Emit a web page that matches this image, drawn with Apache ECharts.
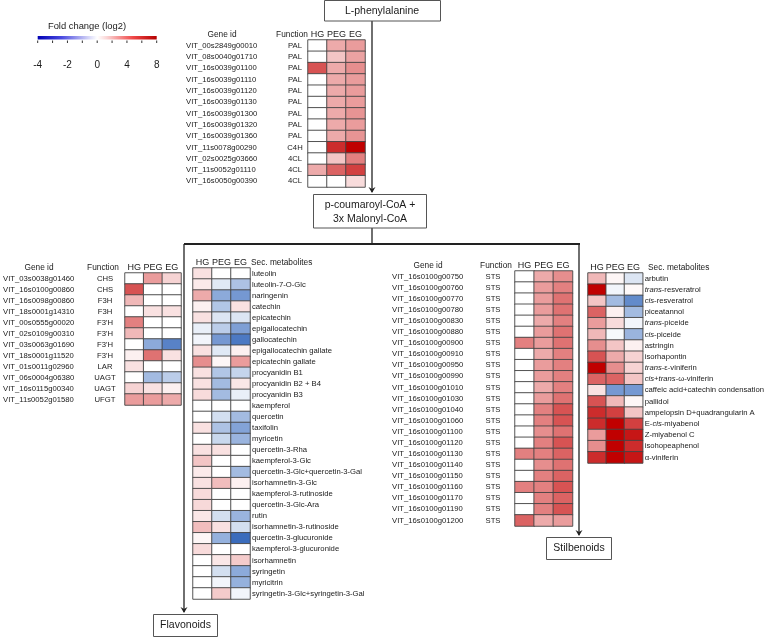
<!DOCTYPE html>
<html><head><meta charset="utf-8">
<script src="https://cdn.jsdelivr.net/npm/echarts/dist/echarts.min.js"></script>
<style>html,body{margin:0;padding:0;background:#fff}#c{width:767px;height:637px}</style>
</head><body><div id="c"></div>
<script>
const conditions = ['HG', 'PEG', 'EG'];

// Phenylpropanoid pathway genes (top table)
const pathGenes = ['VIT_00s2849g00010','VIT_08s0040g01710','VIT_16s0039g01100','VIT_16s0039g01110','VIT_16s0039g01120','VIT_16s0039g01130','VIT_16s0039g01300','VIT_16s0039g01320','VIT_16s0039g01360','VIT_11s0078g00290','VIT_02s0025g03660','VIT_11s0052g01110','VIT_16s0050g00390'];
const pathFunctions = ['PAL','PAL','PAL','PAL','PAL','PAL','PAL','PAL','PAL','C4H','4CL','4CL','4CL'];
const pathHG  = [0, 0, 6, 0, 0, 0, 0, 0, 0, 0, 0, 3, 0];
const pathPEG = [3, 2, 3, 3, 3, 3, 3, 3, 3, 7, 2, 5.5, 0];
const pathEG  = [3.5, 3.3, 4, 3.5, 3.5, 3.5, 3.8, 3.5, 3.8, 8, 4.5, 6.5, 1.2];

// Flavonoid genes (left table)
const flavGenes = ['VIT_03s0038g01460','VIT_16s0100g00860','VIT_16s0098g00860','VIT_18s0001g14310','VIT_00s0555g00020','VIT_02s0109g00310','VIT_03s0063g01690','VIT_18s0001g11520','VIT_01s0011g02960','VIT_06s0004g06380','VIT_16s0115g00340','VIT_11s0052g01580'];
const flavFunctions = ['CHS','CHS','F3H','F3H',"F3'H","F3'H","F3'H","F3'H",'LAR','UAGT','UAGT','UFGT'];
const flavGeneHG  = [0, 6, 2.5, 0, 4.5, 2.5, 0, 0.5, 1, 0, 1.5, 3.5];
const flavGenePEG = [3.5, 0, 0, 1, 0, 0, -2.5, 5, 0, -2, 1, 3.5];
const flavGeneEG  = [1.5, 0, 0, 1, 0, 0, -3.5, 1, 0, -1.5, 0.5, 3];

// Flavonoid secondary metabolites
const flavMetabolites = ['luteolin','luteolin-7-O-Glc','naringenin','catechin','epicatechin','epigallocatechin','gallocatechin','epigallocatechin gallate','epicatechin gallate','procyanidin B1','procyanidin B2 + B4','procyanidin B3','kaempferol','quercetin','taxifolin','myricetin','quercetin-3-Rha','kaempferol-3-Glc','quercetin-3-Glc+quercetin-3-Gal','isorhamnetin-3-Glc','kaempferol-3-rutinoside','quercetin-3-Glc-Ara','rutin','isorhamnetin-3-rutinoside','quercetin-3-glucuronide','kaempferol-3-glucuronide','isorhamnetin','syringetin','myricitrin','syringetin-3-Glc+syringetin-3-Gal'];
const flavMetHG  = [1, 0.7, 3, 0.5, 1, -0.5, -0.3, 1, 4, 1, 1, 1.2, 0, 0, 1, 0, 1, 2, 0.7, 1, 1.2, 1.3, 0.8, 2.3, 0.3, 1.2, 0, 0, 0, 0];
const flavMetPEG = [0, -0.7, -2.5, -1.7, -0.8, -1.5, -3, -0.7, 0.3, -1.7, -2, -2, 0, -1, -1.8, -1.2, 1, 0, 0, 2.3, 0, 0, -1, 1, -2.3, 0, 0.8, -1, -0.3, 1.8];
const flavMetEG  = [0, -1.8, -3, 1, -0.8, -2.8, -3.7, 0.5, 3.5, -1.3, 0.8, -0.5, 0, -2, -2.7, -2.2, 0, 0, -2, 0.5, 0, 0, -2.2, -1, -4, 0, 1.8, -2.5, -2.3, -0.3];

// Stilbene synthase genes
const stsGenes = ['VIT_16s0100g00750','VIT_16s0100g00760','VIT_16s0100g00770','VIT_16s0100g00780','VIT_16s0100g00830','VIT_16s0100g00880','VIT_16s0100g00900','VIT_16s0100g00910','VIT_16s0100g00950','VIT_16s0100g00990','VIT_16s0100g01010','VIT_16s0100g01030','VIT_16s0100g01040','VIT_16s0100g01060','VIT_16s0100g01100','VIT_16s0100g01120','VIT_16s0100g01130','VIT_16s0100g01140','VIT_16s0100g01150','VIT_16s0100g01160','VIT_16s0100g01170','VIT_16s0100g01190','VIT_16s0100g01200'];
const stsFunctions = ['STS','STS','STS','STS','STS','STS','STS','STS','STS','STS','STS','STS','STS','STS','STS','STS','STS','STS','STS','STS','STS','STS','STS'];
const stsHG  = [0, 0, 0, 0, 0, 0, 4.5, 0, 0, 0, 0, 0, 0, 0, 0, 0, 4.5, 0, 0, 4.5, 0, 0, 5.5];
const stsPEG = [3, 3.5, 3.5, 3.5, 3, 3.5, 3.5, 3, 3.5, 3.5, 3, 3.5, 4.5, 4.5, 4, 4.5, 4.5, 4, 4.5, 4.5, 4.5, 4.5, 3];
const stsEG  = [4, 4.5, 5, 5, 4.5, 5, 5, 4.5, 4.5, 4.5, 4.5, 5, 6, 6, 5, 6, 5.5, 5, 5.5, 6, 5.5, 6, 3.5];

// Stilbenoid secondary metabolites
const stilMetabolites = ['arbutin','trans-resveratrol','cis-resveratrol','piceatannol','trans-piceide','cis-piceide','astringin','isorhapontin','trans-ε-viniferin','cis+trans-ω-viniferin','caffeic acid+catechin condensation','pallidol','ampelopsin D+quadrangularin A','E-cis-miyabenol','Z-miyabenol C','isohopeaphenol','α-viniferin'];
const stilMetHG  = [2.5, 8, 2, 5.5, 3.5, 2.5, 4, 6, 8, 5.5, 1, 6, 7, 7, 3.5, 4, 7];
const stilMetPEG = [0.3, -0.3, -2, 0.5, 1.2, -0.2, 2, 3, 4, 5.5, -3, 2.5, 6.5, 8, 8, 8, 8];
const stilMetEG  = [-0.8, 0.2, -3.3, -2, -0.3, -2.2, 0.5, 1.5, 1.5, 2, -3, 0.3, 2, 6.5, 7.5, 7, 7.5];

// Colour scale (log2 fold change)
const scaleMin = -4, scaleMax = 8;
const scaleColors = ['#3A6CBC','#7598D2','#A3BBE1','#D3DFF0','#FFFFFF','#F9E1E1','#F3C5C5','#EDAAAA','#E68E8E','#DF7272','#D75353','#CC2C2C','#C00000'];
const legendTicks = ['-4', '-2', '0', '4', '8'];

const FONT = 'Liberation Sans, Arial, sans-serif';
const TXT = '#1a1a1a';

function cells(hg, peg, eg) {
  const out = [];
  [hg, peg, eg].forEach((col, x) => col.forEach((v, y) => out.push([x, y, v])));
  return out;
}

const grids = [
  {left: 308, top: 40, width: 57, height: 147},
  {left: 123, top: 273, width: 58, height: 132},
  {left: 193, top: 268, width: 57, height: 331},
  {left: 515, top: 271, width: 57.5, height: 255},
  {left: 588, top: 273, width: 58.5, height: 190}
];

function xAx(i) {
  return {type: 'category', gridIndex: i, data: conditions, position: 'top',
    axisLine: {show: false}, axisTick: {show: false}, splitLine: {show: false},
    axisLabel: {fontSize: 9, color: TXT, fontFamily: FONT, margin: 1, interval: 0, hideOverlap: false}};
}
function yAx(i, data, pos, offset, align, extra) {
  return Object.assign({type: 'category', gridIndex: i, data: data, inverse: true, position: pos, offset: offset,
    axisLine: {show: false}, axisTick: {show: false}, splitLine: {show: false},
    axisLabel: {fontSize: 7.7, color: TXT, fontFamily: FONT, margin: 0, align: align, interval: 0}}, extra || {});
}

const italicAxis = yAx(4, stilMetabolites, 'right', 2, 'left');
italicAxis.axisLabel.formatter = v => v.replace(/(trans|cis)/g, '{i|$1}');
italicAxis.axisLabel.rich = {i: {fontStyle: 'italic', fontSize: 7.7, color: TXT, fontFamily: FONT}};

const yAxes = [
  yAx(0, pathGenes, 'left', 122, 'left'),
  yAx(0, pathFunctions, 'left', 13, 'center'),
  yAx(1, flavGenes, 'left', 122, 'left'),
  yAx(1, flavFunctions, 'left', 20, 'center'),
  yAx(2, flavMetabolites, 'right', 2, 'left'),
  yAx(3, stsGenes, 'left', 123, 'left'),
  yAx(3, stsFunctions, 'left', 22, 'center'),
  italicAxis
];

function hm(gi, yi, data) {
  return {type: 'heatmap', xAxisIndex: gi, yAxisIndex: yi, data: data,
    itemStyle: {borderColor: '#444', borderWidth: 0.9}, emphasis: {disabled: true}, silent: true};
}

const LINE = {stroke: '#222', lineWidth: 1.3};
function arrow(x, y) {
  return {type: 'polygon', shape: {points: [[x - 3.5, y - 6], [x, y], [x + 3.5, y - 6], [x, y - 4]]}, style: {fill: '#222'}};
}
function box(x, y, w, h) {
  return {type: 'rect', shape: {x: x, y: y, width: w, height: h}, style: {fill: '#fff', stroke: '#555', lineWidth: 1}};
}
function txt(x, y, s, size, align) {
  return {type: 'text', x: x, y: y, style: {text: s, fontSize: size, fontFamily: FONT, fill: TXT, align: align || 'center', verticalAlign: 'middle'}};
}

const legX0 = 37.7, legX1 = 156.7;
const legendGraphics = [
  txt(87, 26, 'Fold change (log2)', 9.4),
  {type: 'rect', shape: {x: legX0, y: 36, width: legX1 - legX0, height: 3.5},
    style: {fill: new echarts.graphic.LinearGradient(0, 0, 1, 0, [
      {offset: 0, color: '#0000B4'}, {offset: 0.2, color: '#4A4AE0'}, {offset: 0.42, color: '#D0D0F6'},
      {offset: 0.5, color: '#FFFFFF'}, {offset: 0.58, color: '#FAD6D6'}, {offset: 0.8, color: '#F04848'},
      {offset: 1, color: '#B40000'}])}}
];
for (let i = 0; i < 9; i++) {
  const x = legX0 + i * (legX1 - legX0) / 8;
  legendGraphics.push({type: 'line', shape: {x1: x, y1: 40.5, x2: x, y2: 43}, style: {stroke: '#333', lineWidth: 1}});
}
legendTicks.forEach((t, i) => legendGraphics.push(txt(legX0 + i * (legX1 - legX0) / 4, 65, t, 10)));

const graphics = legendGraphics.concat([
  // pathway lines
  {type: 'line', shape: {x1: 372, y1: 21, x2: 372, y2: 192}, style: LINE},
  arrow(372, 193),
  {type: 'line', shape: {x1: 372, y1: 228, x2: 372, y2: 244}, style: LINE},
  {type: 'line', shape: {x1: 184, y1: 244, x2: 580, y2: 244}, style: {stroke: '#222', lineWidth: 1.8}},
  {type: 'line', shape: {x1: 184, y1: 244, x2: 184, y2: 612}, style: LINE},
  arrow(184, 613),
  {type: 'line', shape: {x1: 579, y1: 244, x2: 579, y2: 535}, style: LINE},
  arrow(579, 536),
  // boxes
  box(324.5, 0.5, 116, 20.5), txt(382, 11, 'L-phenylalanine', 10.5),
  box(313.5, 194.5, 113, 33.5), txt(370, 205, 'p-coumaroyl-CoA +', 10.5), txt(370, 219, '3x Malonyl-CoA', 10.5),
  box(153.5, 614.5, 64, 22), txt(185.5, 625.5, 'Flavonoids', 10.5),
  box(546.5, 537.5, 65, 22), txt(579, 548.5, 'Stilbenoids', 10.5),
  // table headers
  txt(222, 35, 'Gene id', 8.3), txt(292, 35, 'Function', 8.3),
  txt(39, 268, 'Gene id', 8.3), txt(103, 268, 'Function', 8.3),
  txt(251, 263, 'Sec. metabolites', 8.3, 'left'),
  txt(428, 266, 'Gene id', 8.3), txt(496, 266, 'Function', 8.3),
  txt(648, 268, 'Sec. metabolites', 8.3, 'left')
]);

const chart = echarts.init(document.getElementById('c'), null, {renderer: 'canvas'});
chart.setOption({
  backgroundColor: '#fff',
  animation: false,
  textStyle: {fontFamily: FONT},
  grid: grids,
  xAxis: [0, 1, 2, 3, 4].map(xAx),
  yAxis: yAxes,
  visualMap: {type: 'continuous', min: scaleMin, max: scaleMax, show: false, calculable: false,
    seriesIndex: [0, 1, 2, 3, 4], inRange: {color: scaleColors}},
  series: [
    hm(0, 0, cells(pathHG, pathPEG, pathEG)),
    hm(1, 2, cells(flavGeneHG, flavGenePEG, flavGeneEG)),
    hm(2, 4, cells(flavMetHG, flavMetPEG, flavMetEG)),
    hm(3, 5, cells(stsHG, stsPEG, stsEG)),
    hm(4, 7, cells(stilMetHG, stilMetPEG, stilMetEG))
  ],
  graphic: graphics
});
</script>
</body></html>
